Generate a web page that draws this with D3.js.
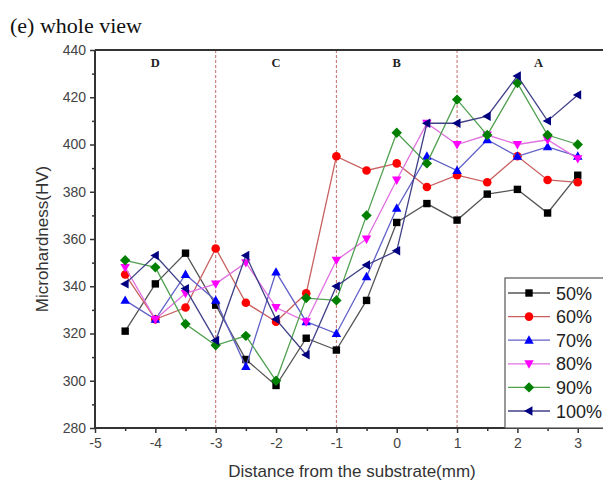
<!DOCTYPE html>
<html><head><meta charset="utf-8">
<script src="https://cdn.jsdelivr.net/npm/d3@7"></script>
<style>body{margin:0;background:#fff}svg{display:block}</style>
</head><body>
<svg id="c" width="603" height="486"></svg>
<script>
const xs = [-4.5,-4,-3.5,-3,-2.5,-2,-1.5,-1,-0.5,0,0.5,1,1.5,2,2.5,3];
const s50  = [321,341,354,332,309,298,318,313,334,367,375,368,379,381,371,387];
const s60  = [345,326,331,356,333,325,337,395,389,392,382,387,384,395,385,384];
const s70  = [334,326,345,334,306,346,325,320,344,373,395,389,402,395,399,395];
const s80  = [348,326,337,341,350,331,325,351,360,385,409,400,404,400,402,394];
const s90  = [351,348,324,315,319,300,335,334,370,405,392,419,404,426,404,400];
const s100 = [341,353,339,317,353,326,311,340,349,355,409,409,412,429,410,421];
const seriesNames = ["50%","60%","70%","80%","90%","100%"];
const xTicks = [-5,-4,-3,-2,-1,0,1,2,3];
const yTicks = [280,300,320,340,360,380,400,420,440];
const zoneBounds = [-3,-1,1];
const zoneLabels = ["D","C","B","A"];
const zoneCenters = [-4,-2,0,2.35];

const svg = d3.select("#c");
const L=95, R=620, T=50, B=428;
const x = d3.scaleLinear().domain([-5,3.7]).range([L,R]);
const y = d3.scaleLinear().domain([280,440]).range([B,T]);

// title
svg.append("text").attr("x",10).attr("y",33).attr("font-family","Liberation Serif, Times New Roman, serif")
  .attr("font-size",22).attr("fill","#111").text("(e) whole view");

// dashed zone lines
svg.selectAll("line.zone").data(zoneBounds).join("line")
  .attr("x1",d=>x(d)).attr("x2",d=>x(d)).attr("y1",T).attr("y2",B)
  .attr("stroke","#c46a6a").attr("stroke-width",1).attr("stroke-dasharray","3,2");
svg.selectAll("text.zone").data(zoneLabels).join("text")
  .attr("x",(d,i)=>x(zoneCenters[i])).attr("y",67).attr("text-anchor","middle")
  .attr("font-family","Liberation Serif, Times New Roman, serif").attr("font-weight","bold")
  .attr("font-size",12.5).attr("fill","#222").text(d=>d);

// axes
const axCol="#333";
const gx = svg.append("g").attr("transform",`translate(0,${B})`)
  .call(d3.axisBottom(x).tickValues(xTicks).tickSize(5).tickPadding(5).tickFormat(d=>String(d)));
const gxm = svg.append("g").attr("transform",`translate(0,${B})`)
  .call(d3.axisBottom(x).tickValues(xTicks.map(d=>d+0.5)).tickSize(3).tickFormat(""));
const gy = svg.append("g").attr("transform",`translate(${L},0)`)
  .call(d3.axisLeft(y).tickValues(yTicks).tickSize(5).tickPadding(4).tickFormat(d=>String(d)));
const gym = svg.append("g").attr("transform",`translate(${L},0)`)
  .call(d3.axisLeft(y).tickValues(yTicks.slice(0,-1).map(d=>d+10)).tickSize(3).tickFormat(""));
[gx,gxm,gy,gym].forEach(g=>{
  g.select(".domain").remove();
  g.selectAll("line").attr("stroke",axCol).attr("stroke-width",1.5);
  g.selectAll("text").attr("font-family","Liberation Sans, Arial, sans-serif").attr("font-size",14).attr("fill","#444");
});
svg.append("line").attr("x1",L).attr("x2",R).attr("y1",B).attr("y2",B).attr("stroke",axCol).attr("stroke-width",2);
svg.append("line").attr("x1",L).attr("x2",L).attr("y1",T).attr("y2",B).attr("stroke",axCol).attr("stroke-width",2);
svg.append("line").attr("x1",L).attr("x2",R).attr("y1",T).attr("y2",T).attr("stroke",axCol).attr("stroke-width",2);

svg.append("text").attr("x",352).attr("y",477).attr("text-anchor","middle")
  .attr("font-family","Liberation Sans, Arial, sans-serif").attr("font-size",17).attr("fill","#333")
  .text("Distance from the substrate(mm)");
svg.append("text").attr("transform",`translate(48,${(T+B)/2}) rotate(-90)`).attr("text-anchor","middle")
  .attr("font-family","Liberation Sans, Arial, sans-serif").attr("font-size",17).attr("fill","#333")
  .text("Microhardness(HV)");

// series
const data = [s50,s60,s70,s80,s90,s100];
const colors = ["#000000","#ff0000","#0000ff","#ff00ff","#008000","#000080"];
const lineColors = ["#555555","#c86060","#6060c8","#e070e0","#50a050","#404088"];
const shapes = [
  s=>`M${-s},${-s}h${2*s}v${2*s}h${-2*s}z`,
  s=>`M${s},0A${s},${s} 0 1,1 ${-s},0A${s},${s} 0 1,1 ${s},0z`,
  s=>`M0,${-s*1.15}L${s*1.1},${s*0.8}L${-s*1.1},${s*0.8}z`,
  s=>`M0,${s*1.15}L${s*1.1},${-s*0.8}L${-s*1.1},${-s*0.8}z`,
  s=>`M0,${-s*1.3}L${s*1.3},0L0,${s*1.3}L${-s*1.3},0z`,
  s=>`M${-s*1.15},0L${s*0.8},${-s*1.1}L${s*0.8},${s*1.1}z`
];
const sizes=[3.7,4.3,4.3,4.3,4.0,4.3];
const line = d3.line().x(d=>x(d[0])).y(d=>y(d[1]));
data.forEach((vals,i)=>{
  const pts = xs.map((xv,j)=>[xv,vals[j]]);
  svg.append("path").attr("d",line(pts)).attr("fill","none").attr("stroke",lineColors[i]).attr("stroke-width",1.3);
  svg.append("g").selectAll("path").data(pts).join("path")
    .attr("transform",d=>`translate(${x(d[0])},${y(d[1])})`)
    .attr("d",shapes[i](sizes[i])).attr("fill",colors[i]);
});

// legend
const lgX=505, lgY=278, lgH=150, rowH=23.6;
svg.append("rect").attr("x",lgX).attr("y",lgY).attr("width",130).attr("height",lgH)
  .attr("fill","#fff").attr("stroke","#555").attr("stroke-width",1.2);
seriesNames.forEach((n,i)=>{
  const yy = lgY+15+i*rowH;
  svg.append("line").attr("x1",508).attr("x2",550).attr("y1",yy).attr("y2",yy).attr("stroke",lineColors[i]).attr("stroke-width",1.3);
  svg.append("path").attr("transform",`translate(529,${yy})`).attr("d",shapes[i](sizes[i])).attr("fill",colors[i]);
  svg.append("text").attr("x",556).attr("y",yy+6.5).attr("font-family","Liberation Sans, Arial, sans-serif")
    .attr("font-size",18).attr("fill","#222").text(n);
});
</script>
</body></html>
